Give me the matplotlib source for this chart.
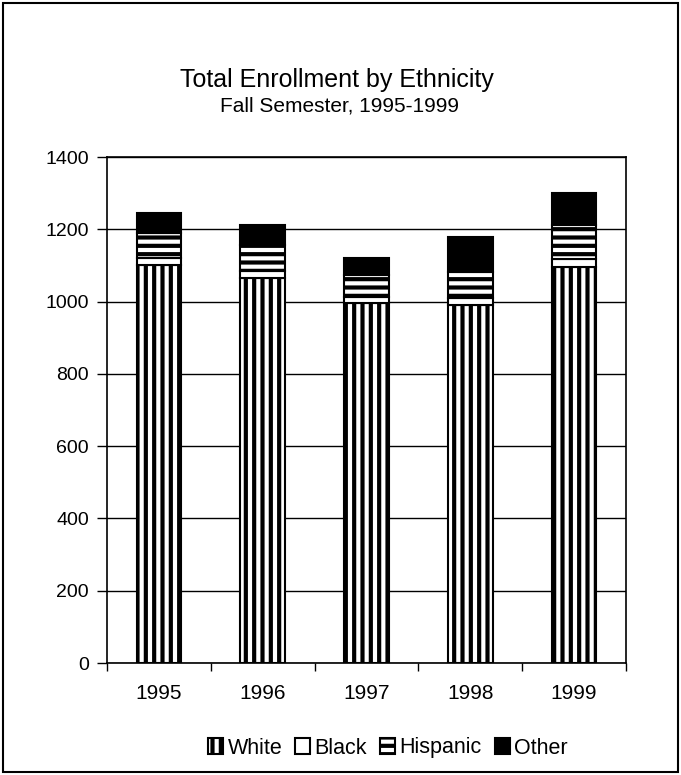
import matplotlib.pyplot as plt
import numpy as np
from matplotlib.patches import Rectangle

plt.rcParams["font.family"] = ["Liberation Sans", "DejaVu Sans"]
plt.rcParams["hatch.linewidth"] = 3.0

# 数据
years = ["1995", "1996", "1997", "1998", "1999"]
white = [1100, 1065, 995, 990, 1096]
black = [20, 20, 18, 20, 22]
hispanic = [70, 72, 60, 72, 94]
other = [55, 55, 47, 97, 88]

series = [("White", white, "white", "||"),
          ("Black", black, "white", None),
          ("Hispanic", hispanic, "white", "--"),
          ("Other", other, "black", None)]

fig = plt.figure(figsize=(6.81, 7.75), dpi=100)
ax = fig.add_axes([107 / 681, 1 - 663 / 775, 519 / 681, 506 / 775])

x = np.arange(len(years))
bottom = np.zeros(len(years))
for name, vals, fc, hatch in series:
    ax.bar(x, vals, width=0.43, bottom=bottom, color=fc, edgecolor="black",
           hatch=hatch, linewidth=1.5, label=name, zorder=3)
    bottom = bottom + np.array(vals)

ax.set_xlim(-0.5, len(years) - 0.5)
ax.set_ylim(0, 1400)
ax.set_yticks(range(0, 1401, 200))
ax.set_xticks(x)
ax.set_xticklabels(years, fontsize=15)
ax.set_xticks(np.arange(-0.5, len(years), 1), minor=True)
ax.tick_params(axis="x", which="major", length=0, pad=15)
ax.tick_params(axis="x", which="minor", length=6, direction="out", width=1)
ax.tick_params(axis="y", labelsize=14, length=7, direction="out", width=1, pad=6)
ax.yaxis.grid(True, color="black", linewidth=1)
for s in ax.spines.values():
    s.set_linewidth(1.2)

fig.text(337 / 681, 1 - 80 / 775, "Total Enrollment by Ethnicity", ha="center",
         va="center", fontsize=18)
fig.text(340 / 681, 1 - 106 / 775, "Fall Semester, 1995-1999", ha="center",
         va="center", fontsize=15)

fig.legend(loc="center", bbox_to_anchor=(388 / 681, 1 - 748 / 775), ncol=4,
           frameon=False, fontsize=15.5, handlelength=0.7, handleheight=0.7,
           handletextpad=0.2, columnspacing=0.6)

fig.add_artist(Rectangle((0.004, 0.004), 0.992, 0.992, transform=fig.transFigure,
                         fill=False, edgecolor="black", linewidth=1.5))

fig.savefig("out.png", dpi=100)
